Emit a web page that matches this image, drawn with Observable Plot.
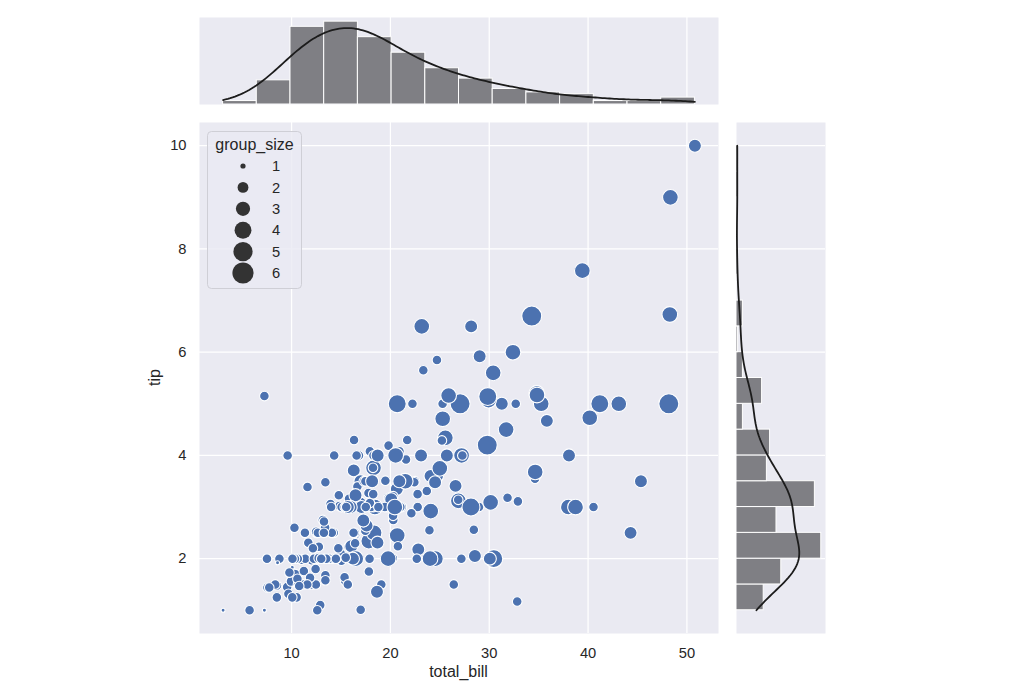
<!DOCTYPE html>
<html><head><meta charset="utf-8">
<script src="https://cdn.jsdelivr.net/npm/d3@7"></script>
<script src="https://cdn.jsdelivr.net/npm/@observablehq/plot@0.6"></script>
<style>
body{margin:0;background:#fff;}
#wrap{position:relative;width:1028px;height:687px;font-family:"Liberation Sans",Arial,sans-serif;color:#262626;}
#wrap svg{position:absolute;left:0;top:0;}
</style></head><body><div id="wrap"></div>
<script>
const totalBill = [16.99,10.34,21.01,23.68,24.59,25.29,8.77,26.88,15.04,14.78,10.27,35.26,15.42,18.43,14.83,21.58,10.33,16.29,16.97,20.65,17.92,20.29,15.77,39.42,19.82,17.81,13.37,12.69,21.7,19.65,9.55,18.35,15.06,20.69,17.78,24.06,16.31,16.93,18.69,31.27,16.04,17.46,13.94,9.68,30.4,18.29,22.23,32.4,28.55,18.04,12.54,10.29,34.81,9.94,25.56,19.49,38.01,26.41,11.24,48.27,20.29,13.81,11.02,18.29,17.59,20.08,16.45,3.07,20.23,15.01,12.02,17.07,26.86,25.28,14.73,10.51,17.92,27.2,22.76,17.29,19.44,16.66,10.07,32.68,15.98,34.83,13.03,18.28,24.71,21.16,28.97,22.49,5.75,16.32,22.75,40.17,27.28,12.03,21.01,12.46,11.35,15.38,44.3,22.42,20.92,15.36,20.49,25.21,18.24,14.31,14.0,7.25,38.07,23.95,25.71,17.31,29.93,10.65,12.43,24.08,11.69,13.42,14.26,15.95,12.48,29.8,8.52,14.52,11.38,22.82,19.08,20.27,11.17,12.26,18.26,8.51,10.33,14.15,16.0,13.16,17.47,34.3,41.19,27.05,16.43,8.35,18.64,11.87,9.78,7.51,14.07,13.13,17.26,24.55,19.77,29.85,48.17,25.0,13.39,16.49,21.5,12.66,16.21,13.81,17.51,24.52,20.76,31.71,10.59,10.63,50.81,15.81,7.25,31.85,16.82,32.9,17.89,14.48,9.6,34.63,34.65,23.33,45.35,23.17,40.55,20.69,20.9,30.46,18.15,23.1,15.69,19.81,28.44,15.48,16.58,7.56,10.34,43.11,13.0,13.51,18.71,12.74,13.0,16.4,20.53,16.47,26.59,38.73,24.27,12.76,30.06,25.89,48.33,13.27,28.17,12.9,28.15,11.59,7.74,30.14,12.16,13.42,8.58,15.98,13.42,16.27,10.09,20.45,13.28,22.12,24.01,15.69,11.61,10.77,15.53,10.07,12.6,32.83,35.83,29.03,27.18,22.67,17.82,18.78];
const tip = [1.01,1.66,3.5,3.31,3.61,4.71,2.0,3.12,1.96,3.23,1.71,5.0,1.57,3.0,3.02,3.92,1.67,3.71,3.5,3.35,4.08,2.75,2.23,7.58,3.18,2.34,2.0,2.0,4.3,3.0,1.45,2.5,3.0,2.45,3.27,3.6,2.0,3.07,2.31,5.0,2.24,2.54,3.06,1.32,5.6,3.0,5.0,6.0,2.05,3.0,2.5,2.6,5.2,1.56,4.34,3.51,3.0,1.5,1.76,6.73,3.21,2.0,1.98,3.76,2.64,3.15,2.47,1.0,2.01,2.09,1.97,3.0,3.14,5.0,2.2,1.25,3.08,4.0,3.0,2.71,3.0,3.4,1.83,5.0,2.03,5.17,2.0,4.0,5.85,3.0,3.0,3.5,1.0,4.3,3.25,4.73,4.0,1.5,3.0,1.5,2.5,3.0,2.5,3.48,4.08,1.64,4.06,4.29,3.76,4.0,3.0,1.0,4.0,2.55,4.0,3.5,5.07,1.5,1.8,2.92,2.31,1.68,2.5,2.0,2.52,4.2,1.48,2.0,2.0,2.18,1.5,2.83,1.5,2.0,3.25,1.25,2.0,2.0,2.0,2.75,3.5,6.7,5.0,5.0,2.3,1.5,1.36,1.63,1.73,2.0,2.5,2.0,2.74,2.0,2.0,5.14,5.0,3.75,2.61,2.0,3.5,2.5,2.0,2.0,3.0,3.48,2.24,4.5,1.61,2.0,10.0,3.16,5.15,3.18,4.0,3.11,2.0,2.0,4.0,3.55,3.68,5.65,3.5,6.5,3.0,5.0,3.5,2.0,3.5,4.0,1.5,4.19,2.56,2.02,4.0,1.44,2.0,5.0,2.0,2.0,4.0,2.01,2.0,2.5,4.0,3.23,3.41,3.0,2.03,2.23,2.0,5.16,9.0,2.5,6.5,1.1,3.0,1.5,1.44,3.09,2.2,3.48,1.92,3.0,1.58,2.5,2.0,3.0,2.72,2.88,2.0,3.0,3.39,1.47,3.0,1.25,1.0,1.17,4.67,5.92,2.0,2.0,1.75,3.0];
const groupSize = [2,3,3,2,4,4,2,4,2,2,2,4,2,4,2,2,3,3,3,3,2,2,2,4,2,4,2,2,2,2,2,4,2,4,2,3,3,3,3,3,3,2,2,2,4,2,2,4,3,2,2,2,4,2,4,2,4,2,2,4,2,2,2,4,3,3,2,1,2,2,2,3,2,2,2,2,2,4,2,2,2,2,1,2,2,4,2,2,2,2,2,2,2,2,2,4,2,2,2,2,2,2,3,2,2,2,2,2,2,2,2,1,3,2,3,2,4,2,2,4,2,2,2,2,2,6,2,2,2,3,2,2,2,2,2,2,2,2,2,2,2,6,5,6,2,2,3,2,2,2,2,2,3,4,4,5,6,4,2,4,4,2,3,2,2,3,2,4,2,2,3,2,2,2,2,2,2,2,2,2,4,2,3,4,2,5,3,5,3,3,2,2,2,2,2,2,2,4,2,2,3,2,2,2,4,3,3,4,2,2,3,4,4,2,3,2,5,2,2,4,2,2,1,3,2,2,2,4,2,2,4,3,2,2,2,2,2,2,3,3,2,2,2,2];
const xTicks = [10, 20, 30, 40, 50];
const yTicks = [2, 4, 6, 8, 10];
const sizeLevels = [1, 2, 3, 4, 5, 6];
const xLabel = "total_bill";
const yLabel = "tip";
const legendTitle = "group_size";
const xBinCount = 14;
const yBinCount = 18;

const data = totalBill.map((b, i) => ({total_bill: b, tip: tip[i], group_size: groupSize[i]}));

const W = 1028, H = 687;
const F = {left: 199, right: 718, top: 122, bottom: 633};
const MX = {top: 17, bottom: 104};
const MY = {left: 736, right: 825};
const BG = "#EAEAF2", BLUE = "#4C72B0", BAR = "#7f7f84", LINE = "#1c1c1c";

function padded(v) { const [a, b] = d3.extent(v); const p = (b - a) * 0.05; return [a - p, b + p]; }
const xDom = padded(totalBill), yDom = padded(tip);
// equal-width histogram bins spanning the data range (last bin inclusive)
function histo(v, n) {
  const [a, b] = d3.extent(v);
  const inner = d3.range(1, n).map(k => a + (b - a) * k / n);
  return d3.bin().domain([a, b]).thresholds(inner)(v);
}
const binsX = histo(totalBill, xBinCount), binsY = histo(tip, yBinCount);
const xBinW = (d3.max(totalBill) - d3.min(totalBill)) / xBinCount;
const yBinW = (d3.max(tip) - d3.min(tip)) / yBinCount;
function kde(v, binw) {
  const n = v.length, bw = d3.deviation(v) * Math.pow(n, -0.2);
  const [a, b] = d3.extent(v);
  return d3.range(200).map(k => {
    const g = a + (b - a) * k / 199;
    return {v: g, d: d3.sum(v, x => Math.exp(-0.5 * ((g - x) / bw) ** 2)) / (bw * Math.sqrt(2 * Math.PI)) * binw};
  });
}
const kdeX = kde(totalBill, xBinW);
const kdeY = kde(tip, yBinW);

const area = d3.scaleLinear().domain([1, 6]).range([4, 100]);
const style = {background: "transparent", fontFamily: "'Liberation Sans', Arial, sans-serif", fontSize: "14.7px", color: "#262626", overflow: "visible"};
const gridStyle = {stroke: "white", strokeOpacity: 1, strokeWidth: 1.25};

const main = Plot.plot({
  width: W, height: H,
  marginLeft: F.left, marginRight: W - F.right, marginTop: F.top, marginBottom: H - F.bottom,
  style,
  x: {domain: xDom},
  y: {domain: yDom},
  r: {type: "identity"},
  marks: [
    Plot.frame({fill: BG, stroke: "none"}),
    Plot.gridX({ticks: xTicks, ...gridStyle}),
    Plot.gridY({ticks: yTicks, ...gridStyle}),
    Plot.axisX({ticks: xTicks, tickSize: 0, tickPadding: 14, label: null, fontSize: 14.7}),
    Plot.axisY({ticks: yTicks, tickSize: 0, tickPadding: 13, label: null, fontSize: 14.7}),
    Plot.dot(data, {x: "total_bill", y: "tip", r: d => Math.sqrt(area(d.group_size)), fill: BLUE, stroke: "white", strokeWidth: 1.1, sort: null})
  ]
});

const topM = Plot.plot({
  width: W, height: H,
  marginLeft: F.left, marginRight: W - F.right, marginTop: MX.top, marginBottom: H - MX.bottom,
  style,
  x: {domain: xDom, axis: null},
  y: {axis: null, insetTop: (MX.bottom - MX.top) * 0.05 / 1.05},
  marks: [
    Plot.frame({fill: BG, stroke: "none"}),
    Plot.gridX({ticks: xTicks, ...gridStyle}),
    Plot.rect(binsX, {x1: d => d.x0, x2: d => d.x1, y1: 0, y2: d => d.length, fill: BAR, stroke: "white", strokeWidth: 1}),
    Plot.line(kdeX, {x: "v", y: "d", stroke: LINE, strokeWidth: 1.8})
  ]
});

const rightM = Plot.plot({
  width: W, height: H,
  marginLeft: MY.left, marginRight: W - MY.right, marginTop: F.top, marginBottom: H - F.bottom,
  style,
  x: {axis: null, insetRight: (MY.right - MY.left) * 0.05 / 1.05},
  y: {domain: yDom, axis: null},
  marks: [
    Plot.frame({fill: BG, stroke: "none"}),
    Plot.gridY({ticks: yTicks, ...gridStyle}),
    Plot.rect(binsY, {y1: d => d.x0, y2: d => d.x1, x1: 0, x2: d => d.length, fill: BAR, stroke: "white", strokeWidth: 1}),
    Plot.line(kdeY, {x: "d", y: "v", stroke: LINE, strokeWidth: 1.8})
  ]
});

const wrap = document.getElementById("wrap");
wrap.append(topM, rightM, main);

// axis labels and legend overlay
const ov = d3.select(wrap).append("svg").attr("width", W).attr("height", H)
  .style("font-family", "'Liberation Sans', Arial, sans-serif").style("overflow", "visible");
ov.append("text").attr("x", (F.left + F.right) / 2).attr("y", 677).attr("text-anchor", "middle")
  .attr("font-size", 16).attr("fill", "#262626").text(xLabel);
ov.append("text").attr("transform", `translate(160,${(F.top + F.bottom) / 2}) rotate(-90)`)
  .attr("text-anchor", "middle").attr("font-size", 16).attr("fill", "#262626").text(yLabel);

const lg = ov.append("g");
lg.append("rect").attr("x", 207.5).attr("y", 131.5).attr("width", 94).attr("height", 157).attr("rx", 4)
  .attr("fill", BG).attr("fill-opacity", 0.8).attr("stroke", "#cfcfd6").attr("stroke-width", 1);
lg.append("text").attr("x", 254.5).attr("y", 149.5).attr("text-anchor", "middle").attr("font-size", 16)
  .attr("fill", "#262626").text(legendTitle);
sizeLevels.forEach((s, i) => {
  const cy = 166 + 21.4 * i;
  lg.append("circle").attr("cx", 243).attr("cy", cy).attr("r", Math.sqrt(area(s)) + 0.6).attr("fill", "#333333");
  lg.append("text").attr("x", 272).attr("y", cy).attr("dy", "0.36em").attr("font-size", 14.7)
    .attr("fill", "#262626").text(String(s));
});
</script></body></html>
